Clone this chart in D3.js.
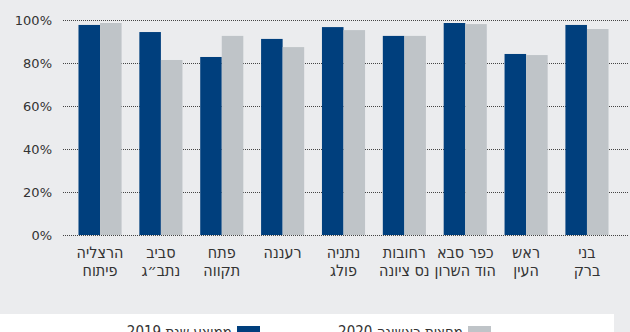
<!DOCTYPE html>
<html>
<head>
<meta charset="utf-8">
<script src="https://cdn.jsdelivr.net/npm/d3@7"></script>
<style>
  html, body { margin: 0; padding: 0; background: #ebecee; }
  svg { display: block; }
</style>
</head>
<body>
<div id="chart"></div>
<script>
(function () {

    // categories, left to right as drawn
    const cities = [
        ['הרצליה', 'פיתוח'],
        ['סביב', 'נתב״ג'],
        ['פתח', 'תקווה'],
        ['רעננה'],
        ['נתניה', 'פולג'],
        ['רחובות', 'נס ציונה'],
        ['כפר סבא', 'הוד השרון'],
        ['ראש', 'העין'],
        ['בני', 'ברק']
    ]
    const values2019 = [97.7, 94.4, 82.8, 91.2, 96.7, 92.6, 98.6, 84.2, 97.7]
    const values2020 = [98.6, 81.4, 92.6, 87.4, 95.3, 92.6, 98.1, 83.7, 95.8]
    const seriesNames = ['ממוצע שנת 2019', 'מחצית ראשונה 2020']
    const yTicks = [0, 20, 40, 60, 80, 100]

    const width = 630
    const height = 332
    const colors = ['#003f7d', '#bfc4c8']

    const svg = d3.select('#chart')
        .append('svg')
        .attr('width', width)
        .attr('height', height)

    svg.append('rect')
        .attr('width', width)
        .attr('height', height)
        .attr('fill', '#ebecee')

    const x = d3.scaleBand()
        .domain(d3.range(cities.length))
        .range([69.6, 617.4])
        .paddingInner(0.292)
        .paddingOuter(0.146)

    const xSub = d3.scaleBand()
        .domain([0, 1])
        .range([0, x.bandwidth()])

    const y = d3.scaleLinear()
        .domain([0, 100])
        .range([235, 20])

    // grid + y labels
    const yAxis = svg.append('g')
        .attr('transform', 'translate(63,0)')
        .call(d3.axisRight(y)
            .tickValues(yTicks)
            .tickSize(565)
            .tickFormat(d => d + '%'))

    yAxis.select('.domain').remove()
    yAxis.selectAll('.tick line')
        .attr('stroke', '#444')
        .attr('stroke-width', 1)
        .attr('stroke-dasharray', '1,1')
    yAxis.selectAll('.tick text')
        .attr('x', -11)
        .attr('dy', '0.34em')
        .attr('text-anchor', 'end')
        .attr('fill', '#333')
        .style('font-family', 'DejaVu Sans')
        .style('font-size', '13px')

    const groups = svg.append('g')
        .selectAll('g')
        .data(cities.map((c, i) => [values2019[i], values2020[i]]))
        .join('g')
        .attr('transform', (d, i) => `translate(${x(i)},0)`)

    groups.selectAll('rect')
        .data(d => d)
        .join('rect')
        .attr('x', (d, j) => xSub(j))
        .attr('y', d => y(d))
        .attr('width', xSub.bandwidth())
        .attr('height', d => y(0) - y(d))
        .attr('fill', (d, j) => colors[j])

    // category labels
    const labels = svg.append('g')
        .selectAll('text')
        .data(cities)
        .join('text')
        .attr('x', (d, i) => x(i) + x.bandwidth() / 2)
        .attr('y', 258)
        .attr('text-anchor', 'middle')
        .attr('fill', '#333')
        .style('font-family', 'DejaVu Sans Condensed, DejaVu Sans')
        .style('font-stretch', 'condensed')
        .style('font-size', '16px')

    labels.selectAll('tspan')
        .data(d => d)
        .join('tspan')
        .attr('x', function () { return d3.select(this.parentNode).attr('x') })
        .attr('dy', (d, j) => j === 0 ? 0 : 18)
        .text(d => d)

    // legend box
    svg.append('rect')
        .attr('x', 0)
        .attr('y', 314)
        .attr('width', 614)
        .attr('height', 30)
        .attr('fill', '#ffffff')

    const legendPos = [237, 468]
    const legend = svg.append('g')
        .selectAll('g')
        .data(seriesNames)
        .join('g')
        .attr('transform', (d, i) => `translate(${legendPos[i]},326)`)

    legend.append('rect')
        .attr('width', 23)
        .attr('height', 14)
        .attr('fill', (d, i) => colors[i])

    legend.append('text')
        .attr('x', -5)
        .attr('y', 11)
        .attr('text-anchor', 'end')
        .attr('fill', '#333')
        .style('font-family', 'DejaVu Sans Condensed, DejaVu Sans')
        .style('font-stretch', 'condensed')
        .style('font-size', '15px')
        .text(d => d)

})();
</script>
</body>
</html>
